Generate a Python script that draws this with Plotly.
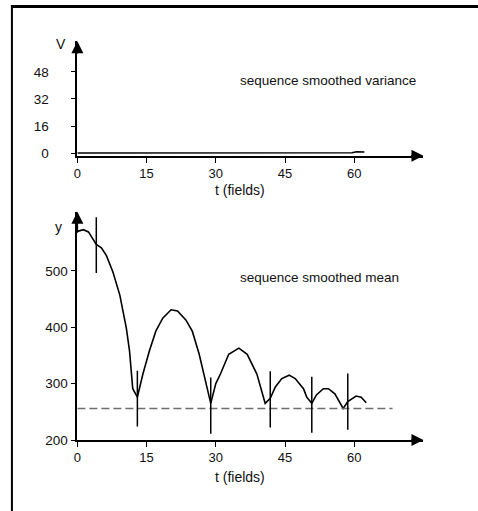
import plotly.graph_objects as go

# ---- data ----
var_t = [0, 10, 20, 30, 40, 50, 58, 59.5, 60.5, 61.5, 62.2]
var_v = [0, 0, 0, 0, 0, 0, 0, 0.2, 0.8, 0.8, 0.7]

mean_t = [0, 1.3, 2.4, 3.1, 4.1, 5.2, 6.3, 7.7, 9.2, 10.6, 11.3, 12.0, 13.0, 14.2, 15.6,
          17.0, 18.5, 20.3, 21.7, 23.5, 24.9, 26.4, 27.8, 28.9, 30.0, 31.0, 32.8, 35.0,
          36.8, 38.9, 40.7, 41.8, 42.9, 44.3, 45.9, 47.2, 49.0, 49.7, 50.8, 51.8, 53.3,
          54.4, 55.8, 57.6, 58.6, 60.4, 61.5, 62.6]
mean_y = [570, 573, 569, 559, 547, 541, 527, 498, 457, 399, 358, 291, 276, 317, 358,
          393, 416, 431, 429, 413, 393, 352, 300, 265, 300, 317, 352, 363,
          352, 317, 265, 274, 294, 309, 315, 309, 291, 276, 265, 280, 291,
          291, 282, 256, 268, 278, 276, 266]

bar_t = [4.1, 13.0, 28.9, 41.8, 50.8, 58.6]
bar_lo = [496, 224, 211, 222, 213, 218]
bar_hi = [595, 323, 311, 322, 312, 318]

baseline_y = 256
baseline_t = [0, 68.3]

x_ticks = [0, 15, 30, 45, 60]
v_ticks = [0, 16, 32, 48]
y_ticks = [200, 300, 400, 500]

X_RANGE = [0, 75]
V_RANGE = [-1.6, 66]
Y_RANGE = [200, 605]

W, H = 478, 511
FONT = "Liberation Sans, Arial, sans-serif"
TXT = "#111"

fig = go.Figure()

fig.add_trace(go.Scatter(x=var_t, y=var_v, mode="lines", line=dict(color="black", width=1.5),
                         xaxis="x", yaxis="y", showlegend=False, hoverinfo="skip"))

fig.add_trace(go.Scatter(x=mean_t, y=mean_y, mode="lines", line=dict(color="black", width=1.6),
                         xaxis="x2", yaxis="y2", showlegend=False, hoverinfo="skip"))

fig.add_trace(go.Scatter(x=baseline_t, y=[baseline_y, baseline_y], mode="lines",
                         line=dict(color="#6e6e6e", width=1.5, dash="8px,4px"),
                         xaxis="x2", yaxis="y2", showlegend=False, hoverinfo="skip"))

bx, by = [], []
for t, lo, hi in zip(bar_t, bar_lo, bar_hi):
    bx += [t, t, None]
    by += [lo, hi, None]
fig.add_trace(go.Scatter(x=bx, y=by, mode="lines", line=dict(color="black", width=1.5),
                         xaxis="x2", yaxis="y2", showlegend=False, hoverinfo="skip"))

xdom = [74 / W, 423 / W]
top_dom = [1 - 158.3 / H, 1 - 42 / H]
bot_dom = [1 - 447 / H, 1 - 215 / H]

common_x = dict(range=X_RANGE, domain=xdom, tickvals=x_ticks, ticktext=[str(v) for v in x_ticks],
                showline=True, linecolor="black", linewidth=1.6, ticks="outside", ticklen=5,
                tickwidth=1.3, tickcolor="black", showgrid=False, zeroline=False,
                tickfont=dict(family=FONT, size=13, color=TXT), fixedrange=True)
common_y = dict(showline=True, linecolor="black", linewidth=1.6, ticks="outside", ticklen=5,
                tickwidth=1.3, tickcolor="black", showgrid=False, zeroline=False, fixedrange=True,
                tickfont=dict(family=FONT, size=13.5, color=TXT))

fig.update_layout(
    width=W, height=H,
    margin=dict(l=0, r=0, t=0, b=0),
    paper_bgcolor="white", plot_bgcolor="white",
    xaxis=dict(anchor="y", **common_x),
    yaxis=dict(anchor="x", domain=top_dom, range=V_RANGE, tickvals=v_ticks,
               ticktext=[str(v) for v in v_ticks], ticklabelstandoff=19, **common_y),
    xaxis2=dict(anchor="y2", **common_x),
    yaxis2=dict(anchor="x2", domain=bot_dom, range=Y_RANGE, tickvals=y_ticks,
                ticktext=[str(v) for v in y_ticks], **common_y),
)

def arrow(xref, yref, x, y, ax, ay):
    fig.add_annotation(xref=xref, yref=yref, axref=xref, ayref=yref, x=x, y=y, ax=ax, ay=ay,
                       text="", showarrow=True, arrowhead=2, arrowsize=1.6, arrowwidth=1.5,
                       arrowcolor="black")

arrow("x", "y", X_RANGE[1], V_RANGE[0], X_RANGE[1] - 3, V_RANGE[0])
arrow("x", "y", X_RANGE[0], V_RANGE[1], X_RANGE[0], V_RANGE[1] - 8)
arrow("x2", "y2", X_RANGE[1], Y_RANGE[0], X_RANGE[1] - 3, Y_RANGE[0])
arrow("x2", "y2", X_RANGE[0], Y_RANGE[1], X_RANGE[0], Y_RANGE[1] - 40)

def label(text, px, py, size=14, xanchor="center"):
    fig.add_annotation(xref="paper", yref="paper", x=px / W, y=1 - py / H, text=text,
                       showarrow=False, xanchor=xanchor, yanchor="middle",
                       font=dict(family=FONT, size=size, color=TXT))

label("V", 57, 45)
label("y", 54.5, 231)
label("sequence smoothed variance", 236, 82, size=13.5, xanchor="left")
label("sequence smoothed mean", 236, 282, size=13.5, xanchor="left")
label("t (fields)", 237.5, 193)
label("t (fields)", 237.5, 485)

fig.add_shape(type="line", xref="paper", yref="paper", x0=7 / W, x1=1.02, y0=1 - 6.5 / H, y1=1 - 6.5 / H,
              line=dict(color="black", width=3))
fig.add_shape(type="line", xref="paper", yref="paper", x0=8 / W, x1=8 / W, y0=1 - 5 / H, y1=-0.05,
              line=dict(color="black", width=2))

fig.write_html("out.html")
